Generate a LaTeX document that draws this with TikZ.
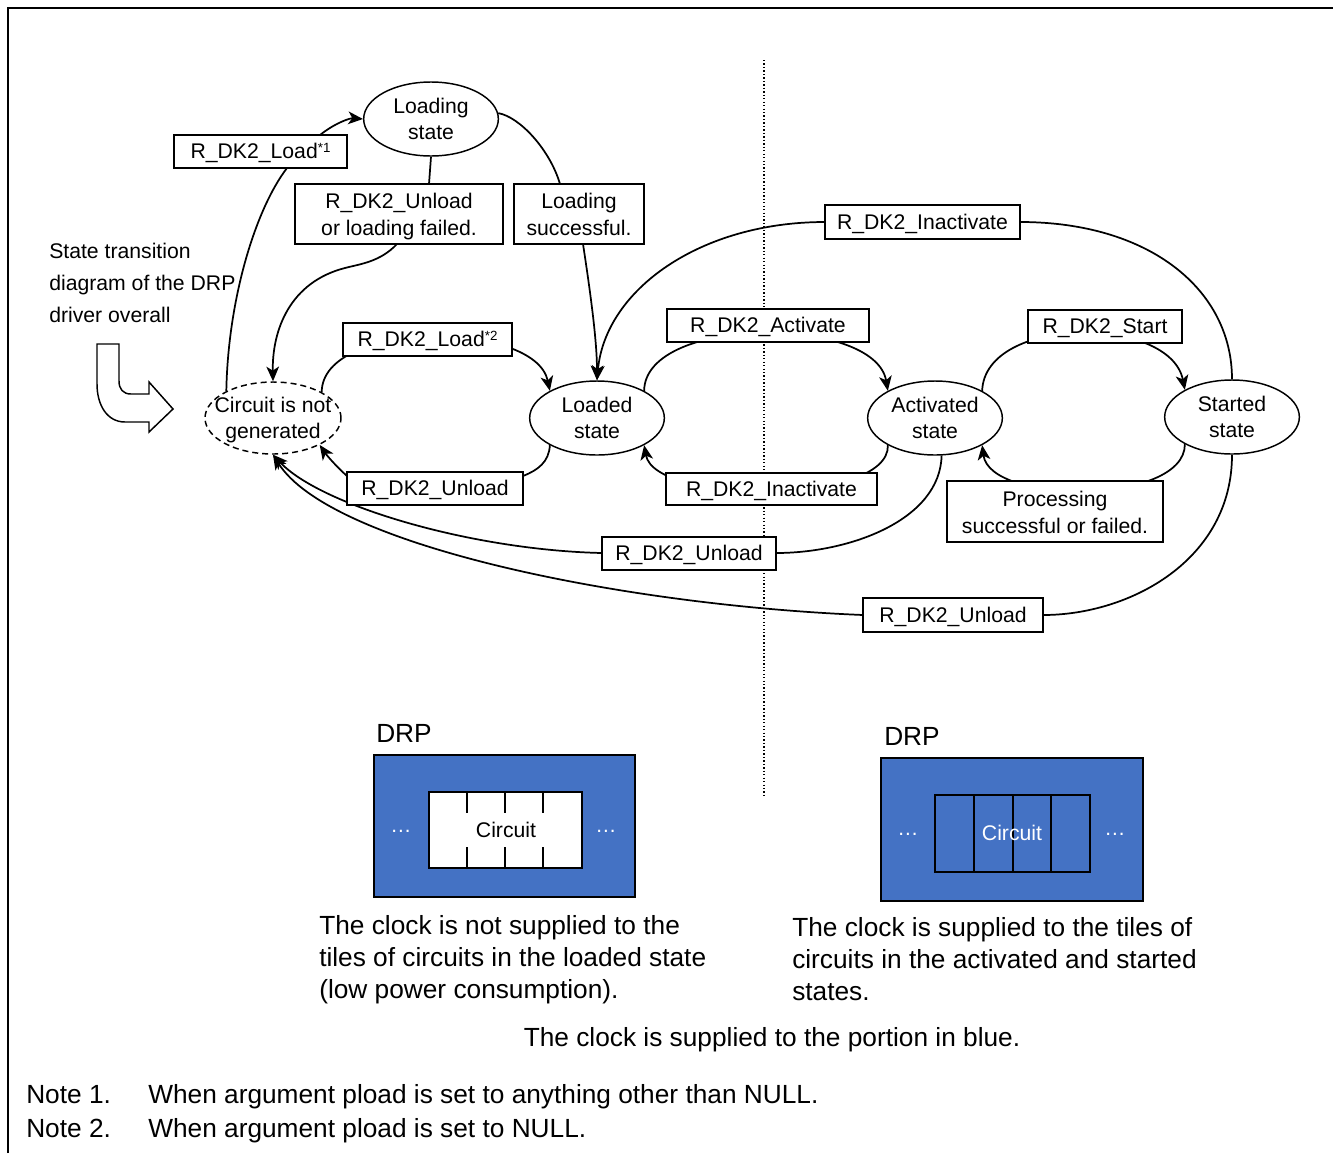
\documentclass[tikz,border=0pt]{standalone}
\usepackage{fontspec}
\setmainfont{Liberation Sans}
\usetikzlibrary{shapes.geometric,arrows.meta,backgrounds}
\definecolor{drpblue}{HTML}{4472C4}
\newcommand\lblfont{\fontsize{15.9pt}{19.5pt}\selectfont}
\newcommand\lblfonttwo{\fontsize{15.9pt}{20.25pt}\selectfont}
\newcommand\bodyfont{\fontsize{19.7pt}{24pt}\selectfont}
\newcommand\stlines[2]{\makebox[0pt]{\raisebox{4.05pt}[0pt][0pt]{\begin{tabular}[t]{@{}c@{}}#1\\#2\end{tabular}}}}
\newcommand\boxlines[2]{\raisebox{4.05pt}[0pt][0pt]{\begin{tabular}[t]{@{}c@{}}#1\\#2\end{tabular}}}
\newcommand\noteref[1]{\raisebox{4.2pt}{\fontsize{10pt}{10pt}\selectfont *#1}}
\begin{document}
\begin{tikzpicture}[x=0.75pt,y=-0.75pt,
  st/.style={ellipse, draw, line width=1.1pt, fill=white, minimum width=101pt, minimum height=55.5pt, inner sep=0pt, font=\lblfont},
  lbl/.style={rectangle, draw, line width=1.1pt, fill=white, minimum height=24.75pt, inner sep=0pt, font=\lblfont, text height=12pt, text depth=1.5pt},
  lbltwo/.style={rectangle, draw, line width=1.1pt, fill=white, minimum height=45pt, inner sep=0pt, font=\lblfonttwo},
  arr/.style={line width=1.3pt, -{Stealth[length=11pt,width=9.5pt,inset=3pt]}},
  txt/.style={anchor=base west, inner sep=0pt, font=\bodyfont},
  side/.style={anchor=base west, inner sep=0pt, font=\lblfont},
  drp/.style={rectangle, draw, line width=0.9pt, fill=drpblue, inner sep=0pt},
  dots/.style={text=white, inner sep=0pt, font=\lblfont}
]
\useasboundingbox (0,0) rectangle (1333,1153);
% frame
\draw[line width=1.5pt] (8,1153) -- (8,8) -- (1333,8);
% dotted separator
\draw[line width=1pt, dash pattern=on 1pt off 1.6pt] (764,60) -- (764,798);

% states
\node[st] (loading) at (431,119) {\stlines{Loading}{state}};
\node[st, dashed, dash pattern=on 4.5pt off 3pt, minimum width=102pt, minimum height=54pt] (none) at (273,418) {\stlines{Circuit is not}{generated}};
\node[st] (loaded) at (597,418) {\stlines{Loaded}{state}};
\node[st] (active) at (935,418) {\stlines{Activated}{state}};
\node[st] (started) at (1232,417) {\stlines{Started}{state}};

% labels
\node[lbl, minimum width=129.75pt] (bLoadA) at (260.5,151.5) {R\_DK2\_Load\noteref{1}};
\node[lbltwo, minimum width=156pt] (bUnFail) at (399,214) {\boxlines{R\_DK2\_Unload}{or loading failed.}};
\node[lbltwo, minimum width=97.5pt] (bLoadOK) at (579,214) {\boxlines{Loading}{successful.}};
\node[lbl, minimum width=146.25pt, minimum height=25.5pt] (bInTop) at (922.5,222) {R\_DK2\_Inactivate};
\node[lbl, minimum width=126.75pt] (bLoadB) at (427.5,339.5) {R\_DK2\_Load\noteref{2}};
\node[lbl, minimum width=151.5pt] (bAct) at (768,325.5) {R\_DK2\_Activate};
\node[lbl, minimum width=115.5pt] (bStart) at (1105,326.5) {R\_DK2\_Start};
\node[lbl, minimum width=132pt] (bUnLow) at (435,488.5) {R\_DK2\_Unload};
\node[lbl, minimum width=158.25pt, minimum height=24pt] (bInLow) at (771.5,489) {R\_DK2\_Inactivate};
\node[lbltwo, minimum width=162pt, minimum height=45.75pt] (bProc) at (1055,511.5) {\boxlines{Processing}{successful or failed.}};
\node[lbl, minimum width=130.5pt] (bUnMid) at (689,553.5) {R\_DK2\_Unload};
\node[lbl, minimum width=135pt, minimum height=25.5pt] (bUnBot) at (953,615) {R\_DK2\_Unload};

% transitions
\begin{pgfonlayer}{background}
\draw[arr] (none.150) .. controls (228,300) and (255,210) .. (287,168) -- (320,135) .. controls (335,123) and (350,118) .. (loading.west);
\draw[arr] (loading.south) -- (429,184) -- (397,244) .. controls (380,262) and (360,264) .. (345,268) .. controls (290,282) and (272,330) .. (none.north);
\draw[arr] (loading.5) .. controls (520,117) and (550,150) .. (560,184) -- (583,244) .. controls (590,290) and (597,340) .. (loaded.north);
\draw[arr] (none.28) .. controls (322,320) and (535,320) .. (loaded.150);
\draw[arr] (loaded.-150) .. controls (549,462) and (538,470) .. (523,476) -- (347,476) .. controls (338,468) and (328,457) .. (none.-30);
\draw[arr] (loaded.30) .. controls (645,315) and (875,315) .. (active.150);
\draw[arr] (active.-150) .. controls (890,505) and (655,505) .. (loaded.-30);
\draw[arr] (active.30) .. controls (985,315) and (1170,315) .. (started.150);
\draw[arr] (started.-150) .. controls (1185,505) and (990,505) .. (active.-30);
\draw[arr] (started.north) .. controls (1232,290) and (1150,222) .. (1020,222) -- (825,222) .. controls (700,222) and (605,290) .. (loaded.north);
\draw[arr] (active.-80) .. controls (940,520) and (850,553) .. (776,553) -- (602,553) .. controls (470,550) and (320,505) .. (none.south);
\draw[arr] (started.south) .. controls (1232,560) and (1130,615) .. (1043,615) -- (863,615) .. controls (620,605) and (330,545) .. (none.south);
\end{pgfonlayer}

% side caption and U arrow
\node[side] (cap1) at (49,258) {State transition};
\node[side] (cap2) at (49,290) {diagram of the DRP};
\node[side] (cap3) at (49,322) {driver overall};
\draw[line width=1.1pt] (97,344) -- (119,344) -- (119,381) .. controls (119,389) and (123,394) .. (131,394) -- (149,394) -- (149,382) -- (173,409) -- (149,432) -- (149,422) -- (125,422) .. controls (107,422) and (97,405) .. (97,384) -- cycle;

% DRP left (loaded)
\node[txt] (drpLt) at (376,742) {DRP};
\node[drp, minimum width=195.75pt, minimum height=106.5pt] (drpL) at (504.5,826) {};
\node[rectangle, draw, line width=1.1pt, fill=white, minimum width=114.75pt, minimum height=57pt, inner sep=0pt] (cirL) at (505.5,830) {};
\foreach \xx in {467,505,543} {
  \draw[line width=1.1pt] (\xx,792) -- (\xx,813);
  \draw[line width=1.1pt] (\xx,847) -- (\xx,868);
}
\node[inner sep=0pt, font=\lblfont] (cirLt) at (506,830) {Circuit};
\node[dots] (dL1) at (401,831) {…};
\node[dots] (dL2) at (606,831) {…};

% DRP right (activated)
\node[txt] (drpRt) at (884,745) {DRP};
\node[drp, minimum width=196.5pt, minimum height=107.25pt] (drpR) at (1012,829.5) {};
\node[rectangle, draw, line width=1.1pt, minimum width=116.25pt, minimum height=57.75pt, inner sep=0pt] (cirR) at (1012.5,833.5) {};
\foreach \xx in {974,1013,1051} {
  \draw[line width=1.1pt] (\xx,795) -- (\xx,872);
}
\node[inner sep=0pt, font=\lblfont, text=white] (cirRt) at (1012,833) {Circuit};
\node[dots] (dR1) at (908,834) {…};
\node[dots] (dR2) at (1115,834) {…};

% texts
\node[txt] (tl1) at (319,934) {The clock is not supplied to the};
\node[txt] (tl2) at (319,966) {tiles of circuits in the loaded state};
\node[txt] (tl3) at (319,998) {(low power consumption).};
\node[txt] (tr1) at (792,936) {The clock is supplied to the tiles of};
\node[txt] (tr2) at (792,968) {circuits in the activated and started};
\node[txt] (tr3) at (792,1000) {states.};
\node[anchor=base, inner sep=0pt, font=\bodyfont] (tc) at (772,1046) {The clock is supplied to the portion in blue.};
\node[txt] (n1a) at (26,1103) {Note 1.};
\node[txt] (n1b) at (148,1103) {When argument pload is set to anything other than NULL.};
\node[txt] (n2a) at (26,1137) {Note 2.};
\node[txt] (n2b) at (148,1137) {When argument pload is set to NULL.};
\end{tikzpicture}
\end{document}
